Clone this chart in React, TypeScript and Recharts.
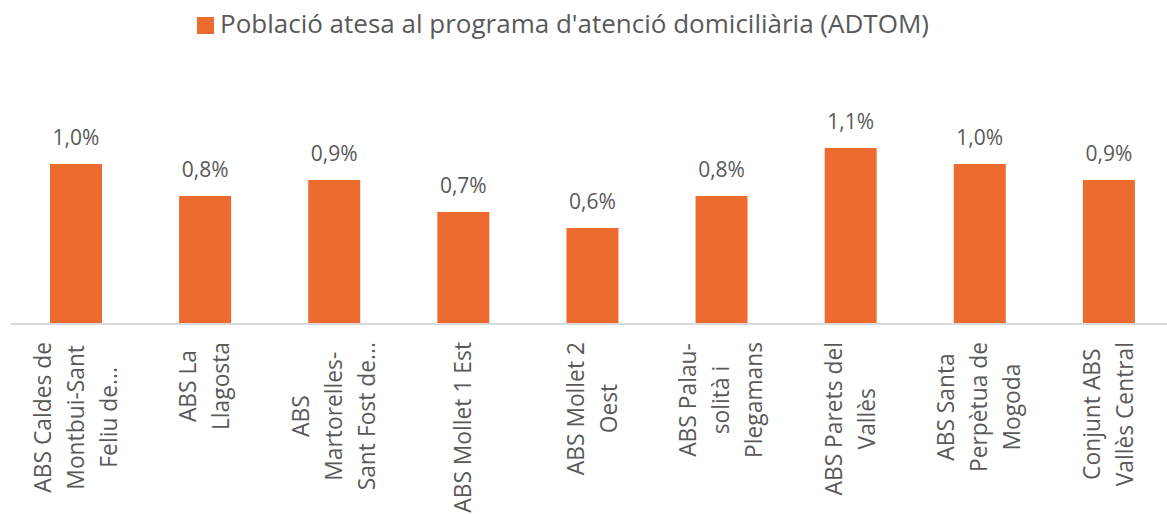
import { Bar, BarChart, LabelList, XAxis, YAxis } from 'recharts';

const categories = [
    'ABS Caldes de Montbui-Sant Feliu de...',
    'ABS La Llagosta',
    'ABS Martorelles-Sant Fost de...',
    'ABS Mollet 1 Est',
    'ABS Mollet 2 Oest',
    'ABS Palau-solità i Plegamans',
    'ABS Parets del Vallès',
    'ABS Santa Perpètua de Mogoda',
    'Conjunt ABS Vallès Central',
];

const tickLines = [
    ['ABS Caldes de', 'Montbui-Sant', 'Feliu de...'],
    ['ABS La', 'Llagosta'],
    ['ABS', 'Martorelles-', 'Sant Fost de...'],
    ['ABS Mollet 1 Est'],
    ['ABS Mollet 2', 'Oest'],
    ['ABS Palau-', 'solità i', 'Plegamans'],
    ['ABS Parets del', 'Vallès'],
    ['ABS Santa', 'Perpètua de', 'Mogoda'],
    ['Conjunt ABS', 'Vallès Central'],
];

const adtomValues = [1.0, 0.8, 0.9, 0.7, 0.6, 0.8, 1.1, 1.0, 0.9];

const seriesName = "Població atesa al programa d'atenció domiciliària (ADTOM)";

const FONT = '"Open Sans", sans-serif';
const TEXT_COLOR = '#595959';
const BAR_COLOR = '#ED6B2F';
const TICK_SIZE = 22.8;

const chartData = categories.map((name, i) => ({
    name,
    value: adtomValues[i],
}));

let measureCtx: CanvasRenderingContext2D | null = null;
function textWidth(text: string, size: number) {
    if (!measureCtx) {
        measureCtx = document.createElement('canvas').getContext('2d');
    }
    if (!measureCtx) return text.length * size * 0.55;
    measureCtx.font = `${size}px ${FONT}`;
    return measureCtx.measureText(text).width;
}

function CategoryTick({ x, y, payload }: any) {
    const lines = tickLines[payload.index] ?? [payload.value];
    const widest = Math.max(...lines.map((l) => textWidth(l, TICK_SIZE)));
    // block of rotated lines hangs from just under the axis
    const cy = y + 10 + widest / 2;
    return (
        <g>
            {lines.map((line, i) => (
                <text
                    key={i}
                    transform={`translate(${x + (i - (lines.length - 1) / 2) * 33 + 8}, ${cy}) rotate(-90)`}
                    textAnchor="middle"
                    fontSize={TICK_SIZE}
                    fontFamily={FONT}
                    fill={TEXT_COLOR}
                >
                    {line}
                </text>
            ))}
        </g>
    );
}

function ValueLabel({ x, y, width, value }: any) {
    return (
        <text
            x={x + width / 2}
            y={y - 19}
            textAnchor="middle"
            fontSize={21}
            fontFamily={FONT}
            fill={TEXT_COLOR}
        >
            {Number(value).toFixed(1).replace('.', ',')}%
        </text>
    );
}

export default function App() {
    return (
        <div
            style={{
                position: 'absolute',
                left: 0,
                top: 0,
                width: 1167,
                height: 514,
                overflow: 'hidden',
                background: '#fff',
                fontFamily: FONT,
            }}
        >
            <span
                style={{
                    position: 'absolute',
                    left: 197,
                    top: 17,
                    width: 17,
                    height: 17,
                    background: BAR_COLOR,
                }}
            />
            <span
                style={{
                    position: 'absolute',
                    left: 220,
                    top: 5,
                    fontSize: 26,
                    lineHeight: 'normal',
                    color: TEXT_COLOR,
                    whiteSpace: 'nowrap',
                }}
            >
                {seriesName}
            </span>
            <BarChart
                width={1173}
                height={514}
                data={chartData}
                margin={{ top: 100, right: 0, bottom: 0, left: 11 }}
            >
                <XAxis
                    dataKey="name"
                    interval={0}
                    height={190}
                    tickLine={false}
                    axisLine={{ stroke: '#d9d9d9', strokeWidth: 2 }}
                    tick={<CategoryTick />}
                />
                <YAxis hide domain={[0, 1.4]} />
                <Bar
                    dataKey="value"
                    name={seriesName}
                    fill={BAR_COLOR}
                    barSize={52}
                    isAnimationActive={false}
                >
                    <LabelList dataKey="value" content={<ValueLabel />} />
                </Bar>
            </BarChart>
        </div>
    );
}
